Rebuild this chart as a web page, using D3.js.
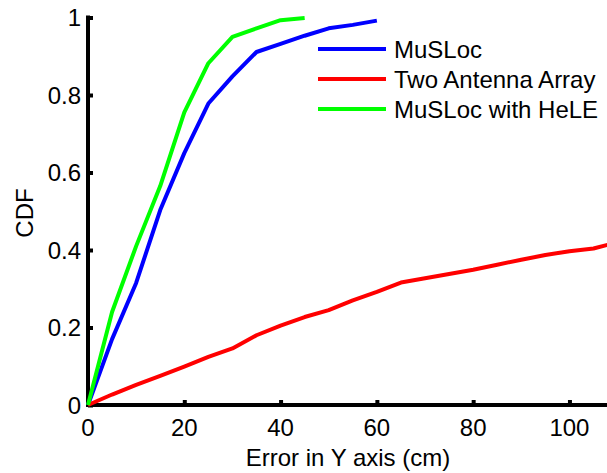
<!DOCTYPE html>
<html>
<head>
<meta charset="utf-8">
<script src="https://cdn.jsdelivr.net/npm/d3@7"></script>
<style>
body { margin: 0; background: #fff; }
text { font-family: Arial, "Liberation Sans", sans-serif; }
</style>
</head>
<body>
<script>
let width = 607;
let height = 473;

// error values (cm) and CDF values
let musloc_x = [0, 5, 10, 15, 20, 25, 30, 35, 40, 45, 50, 55, 60];
let musloc_y = [0, 0.17, 0.315, 0.503, 0.65, 0.778, 0.848, 0.911, 0.932, 0.953, 0.972, 0.981, 0.992];

let two_x = [0, 5, 10, 15, 20, 25, 30, 35, 40, 45, 50, 55, 60, 65, 70, 75, 80, 85, 90, 95, 100, 105, 110];
let two_y = [0, 0.027, 0.052, 0.075, 0.099, 0.124, 0.146, 0.18, 0.205, 0.227, 0.245, 0.27, 0.292, 0.316, 0.327, 0.338, 0.349, 0.362, 0.375, 0.387, 0.397, 0.404, 0.42];

let hele_x = [0, 5, 10, 15, 20, 25, 30, 35, 40, 45];
let hele_y = [0, 0.24, 0.41, 0.565, 0.755, 0.882, 0.95, 0.972, 0.993, 0.999];

let series_names = ['MuSLoc', 'Two Antenna Array', 'MuSLoc with HeLE'];
let series_colors = ['#0000ff', '#ff0000', '#00ff00'];

let x_ticks = [0, 20, 40, 60, 80, 100];
let y_ticks = [0, 0.2, 0.4, 0.6, 0.8, 1];

let margin = {left: 88, right: 0, top: 17.5, bottom: 68};

let x = d3.scaleLinear()
.domain([0, 107.8])
.range([margin.left, width]);

let y = d3.scaleLinear()
.domain([0, 1])
.range([height - margin.bottom, margin.top]);

let svg = d3.select('body')
.append('svg')
.attr('width', width)
.attr('height', height);

let line = d3.line()
.x(function(d){ return x(d[0]); })
.y(function(d){ return y(d[1]); });

let series = [
    d3.zip(musloc_x, musloc_y),
    d3.zip(two_x, two_y),
    d3.zip(hele_x, hele_y)
];

// axes, ticks pointing inward
let x_axis = svg.append('g')
.attr('transform', 'translate(0,' + y(0) + ')')
.call(d3.axisTop(x).tickValues(x_ticks).tickSize(5).tickFormat(''));

let y_axis = svg.append('g')
.attr('transform', 'translate(' + x(0) + ',0)')
.call(d3.axisRight(y).tickValues(y_ticks).tickSize(5).tickFormat(''));

svg.selectAll('.domain').remove();
svg.selectAll('.tick line')
.attr('stroke', '#000')
.attr('stroke-width', 4);

svg.append('line')
.attr('x1', x(0)).attr('x2', width)
.attr('y1', y(0)).attr('y2', y(0))
.attr('stroke', '#000').attr('stroke-width', 4);

svg.append('line')
.attr('x1', x(0)).attr('x2', x(0))
.attr('y1', y(0) + 2).attr('y2', y(1) - 2)
.attr('stroke', '#000').attr('stroke-width', 4);

// tick labels
svg.append('g')
.selectAll('text')
.data(x_ticks)
.enter()
.append('text')
.attr('x', function(d){ return x(d); })
.attr('y', 436)
.attr('text-anchor', 'middle')
.attr('font-size', 24)
.text(function(d){ return d; });

svg.append('g')
.selectAll('text')
.data(y_ticks)
.enter()
.append('text')
.attr('x', 81)
.attr('y', function(d){ return y(d); })
.attr('dy', '0.36em')
.attr('text-anchor', 'end')
.attr('font-size', 24)
.text(function(d){ return d; });

svg.append('text')
.attr('x', 348)
.attr('y', 466)
.attr('text-anchor', 'middle')
.attr('font-size', 24)
.text('Error in Y axis (cm)');

svg.append('text')
.attr('transform', 'translate(33,213) rotate(-90)')
.attr('text-anchor', 'middle')
.attr('font-size', 24)
.text('CDF');

// data lines
svg.append('g')
.selectAll('path')
.data(series)
.enter()
.append('path')
.attr('d', line)
.attr('fill', 'none')
.attr('stroke', function(d, i){ return series_colors[i]; })
.attr('stroke-width', 4)
.attr('stroke-linejoin', 'round');

// legend
let legend = svg.append('g')
.selectAll('g')
.data(series_names)
.enter()
.append('g')
.attr('transform', function(d, i){ return 'translate(318,' + (49 + i * 30) + ')'; });

legend.append('line')
.attr('x1', 0).attr('x2', 68)
.attr('stroke', function(d, i){ return series_colors[i]; })
.attr('stroke-width', 4);

legend.append('text')
.attr('x', 76)
.attr('dy', '0.36em')
.attr('font-size', 24)
.text(function(d){ return d; });
</script>
</body>
</html>
